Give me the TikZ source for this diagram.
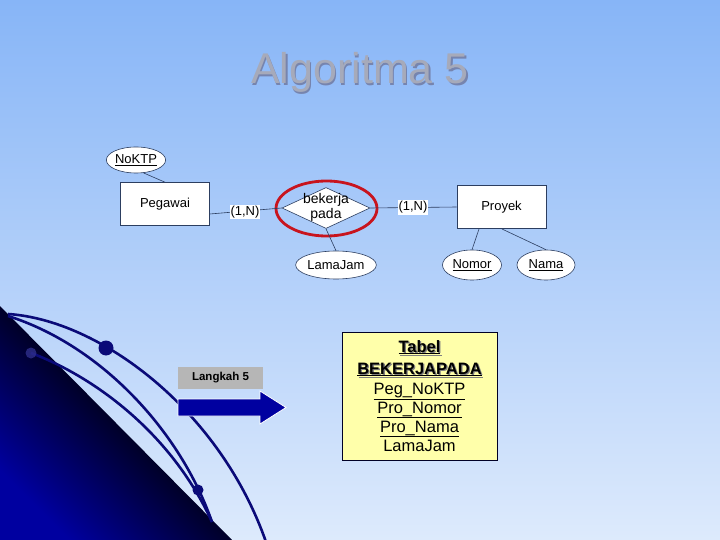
\documentclass[tikz,border=0pt]{standalone}
\usepackage{fontspec}
\setmainfont{Liberation Sans}
\usetikzlibrary{shapes.geometric}
\definecolor{bgtop}{HTML}{87B5F7}
\definecolor{bgbot}{HTML}{DDEAFC}
\definecolor{navy}{HTML}{0A0A78}
\definecolor{arrowblue}{HTML}{0000A0}
\definecolor{erline}{HTML}{2C3E60}
\definecolor{titlegray}{HTML}{A6AABA}
\definecolor{titleshadow}{HTML}{7684AE}
\definecolor{tabfill}{HTML}{FFFFAA}
\definecolor{redring}{HTML}{C8141E}
\definecolor{langgray}{HTML}{B6B6B6}
\tikzset{
  entity/.style={draw=erline, line width=0.6pt, fill=white, minimum width=89pt, minimum height=43pt, inner sep=0pt, font=\fontsize{13}{15}\selectfont},
  attr/.style={ellipse, draw=erline, line width=0.6pt, fill=white, inner sep=0pt, font=\fontsize{13}{15}\selectfont},
  card/.style={fill=white, inner sep=1pt, font=\fontsize{13}{15}\selectfont},
  erl/.style={draw=erline, line width=0.6pt},
  curve/.style={draw=navy, line width=2.6pt},
  tabtext/.style={font=\fontsize{16.5}{19}\selectfont, inner sep=0pt, anchor=base},
}
\begin{document}
\begin{tikzpicture}[x=1pt,y=-1pt]
\useasboundingbox (0,0) rectangle (720,540);
\shade[top color=bgtop, bottom color=bgbot] (0,0) rectangle (720,540);
\begin{scope}
\clip (0,0) rectangle (720,540);
% dark triangle
\shade[top color=black, bottom color=arrowblue, middle color=black!75!arrowblue, shading angle=-45] (0,306) -- (232,540) -- (0,540) -- cycle;
% curves
\draw[curve] (8,314) .. controls (100,320) and (220,410) .. (266,542);
\draw[curve] (8,316) .. controls (100,345) and (180,430) .. (212,522);
\draw[curve] (31,353) .. controls (90,375) and (170,430) .. (212,522);
\fill[navy] (106,348) circle (7.5);
\fill[navy!85!white, opacity=0.8] (31,353) circle (5.5);
\fill[navy] (198,490) circle (5.5);
\end{scope}
% title
\node[anchor=base, text=titleshadow, font=\fontsize{43}{50}\selectfont] at (361.3,85.3) {Algoritma 5};
\node[anchor=base, text=titlegray, font=\fontsize{43}{50}\selectfont] (title) at (360,84) {Algoritma 5};
% ER diagram
\node[attr, minimum width=57pt, minimum height=26pt] (noktp) at (136,160) {\underline{NoKTP}};
\node[entity] (pegawai) at (165,204) {Pegawai};
\node[diamond, draw=erline, line width=0.6pt, fill=white, minimum width=88pt, minimum height=41pt, inner sep=0pt] (rel) at (326,208) {};
\node[align=center, inner sep=0pt, font=\fontsize{14}{15}\selectfont] (reltext) at (326,207) {bekerja\\pada};
\node[ellipse, draw=redring, line width=2.8pt, minimum width=101pt, minimum height=55pt] (ring) at (326.5,208.5) {};
\node[attr, minimum width=64pt, minimum height=28pt] (lama) at (336,265) {LamaJam};
\node[entity] (proyek) at (501.5,207) {Proyek};
\node[attr, minimum width=59pt, minimum height=30pt] (nomor) at (472,265) {\underline{Nomor}};
\node[attr, minimum width=58pt, minimum height=30pt] (nama) at (546,265) {\underline{Nama}};
\draw[erl] (noktp.-60) -- (pegawai.north);
\draw[erl] (pegawai.east |- 0,214) -- (rel.west);
\node[card] (c1) at (245,212) {(1,N)};
\draw[erl] (rel.east) -- (proyek.west);
\node[card] (c2) at (413,207.5) {(1,N)};
\draw[erl] (rel.south) -- (lama.north);
\draw[erl] (479,229) -- (nomor.north);
\draw[erl] (502,229) -- (nama.north);
% Langkah 5
\node[fill=langgray, minimum width=85pt, minimum height=22pt, inner sep=0pt, font=\bfseries\fontsize{11.5}{13}\selectfont] (lang) at (220.5,378) {Langkah 5};
\fill[arrowblue, draw=white, line width=0.8pt] (178,399) -- (260,399) -- (260,391) -- (286,407.5) -- (260,424) -- (260,416) -- (178,416) -- cycle;
% table
\node[draw=black!85!blue, line width=0.9pt, fill=tabfill, minimum width=155pt, minimum height=128pt, inner sep=0pt] (tab) at (419.5,396) {};
\node[tabtext, text=gray] at (420.8,353.3) {\bfseries\underline{Tabel}};
\node[tabtext] (t1) at (419.5,352) {\bfseries\underline{Tabel}};
\node[tabtext, text=gray] at (420.8,375.3) {\bfseries\underline{BEKERJAPADA}};
\node[tabtext] (t2) at (419.5,374) {\bfseries\underline{BEKERJAPADA}};
\node[tabtext] (t3) at (419.5,394) {\underline{Peg\_NoKTP}};
\node[tabtext] (t4) at (419.5,413) {\underline{Pro\_Nomor}};
\node[tabtext] (t5) at (419.5,432) {\underline{Pro\_Nama}};
\node[tabtext] (t6) at (419.5,451) {LamaJam};
\end{tikzpicture}
\end{document}
